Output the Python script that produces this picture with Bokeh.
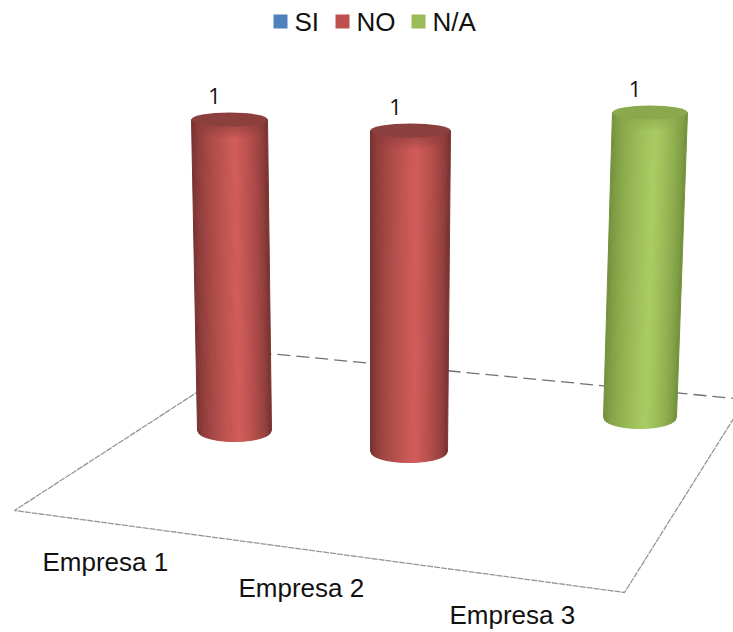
import numpy as np
from bokeh.core.properties import value
from bokeh.embed import file_html
from bokeh.models import Range1d
from bokeh.plotting import figure
from bokeh.resources import INLINE

# Chart data
categories = ["Empresa 1", "Empresa 2", "Empresa 3"]
series_names = ["SI", "NO", "N/A"]
si_values = [0, 0, 0]
no_values = [1, 1, 0]
na_values = [0, 0, 1]
data_labels = ["1", "1", "1"]

# Scene geometry, in canvas pixels with y growing downward
W, H = 733, 632
FLOOR = [(14, 510), (624, 592), (745, 399), (258, 352)]
BASE_CENTER = [(234, 430), (408.5, 451), (639.5, 417)]
UNIT_HEIGHT = [311, 321, 305]
TOP_SHIFT = [-5, 1.5, 10]
BASE_RADIUS = [37, 38.5, 36.5]
TOP_RADIUS = [38, 40, 37.5]
TOP_RY = 7
BASE_RY = 11
CATEGORY_POS = [(42, 561), (238, 587), (449, 614)]

LEGEND_COLORS = ["#4F81BD", "#C0504D", "#9BBB59"]
SHADES = [
    {"dark": "#4A6E9C", "light": "#6F9BD2", "cap": "#3F6A9E"},
    {"dark": "#6F2F2D", "light": "#D05C59", "cap": "#8C403D"},
    {"dark": "#6E8A38", "light": "#A9CB62", "cap": "#8BA94C"},
]


def hex_rgb(code):
    return np.array([int(code[i:i + 2], 16) for i in (1, 3, 5)], dtype=float)


def shade_at(t, dark, light):
    # Cylinder lighting: dark rim, brightest a little right of the axis
    peak = 0.58
    k = t / peak if t < peak else (1 - t) / (1 - peak)
    k = min(1.0, k ** 0.6 * 1.02)
    rgb = hex_rgb(dark) + (hex_rgb(light) - hex_rgb(dark)) * k
    return "#%02x%02x%02x" % tuple(int(round(c)) for c in rgb)


p = figure(
    width=W, height=H, output_backend="svg", toolbar_location=None,
    x_range=Range1d(0, W), y_range=Range1d(H, 0),
    min_border=0, outline_line_color=None, background_fill_color="white",
    border_fill_color="white",
)
p.axis.visible = False
p.grid.visible = False

# Floor of the 3D plot area
(fl, fr, br, bl) = FLOOR
p.line([bl[0], fl[0], fr[0], br[0]], [bl[1], fl[1], fr[1], br[1]],
       line_color="#969696", line_width=1.3, line_dash="6 1")
p.line([bl[0], br[0]], [bl[1], br[1]],
       line_color="#707070", line_width=1.3, line_dash="13 6")


def draw_cylinder(cat, ser, val):
    bx, by = BASE_CENTER[cat]
    tx, ty = bx + TOP_SHIFT[cat], by - val * UNIT_HEIGHT[cat]
    rb, rt = BASE_RADIUS[cat], TOP_RADIUS[cat]
    shade = SHADES[ser]
    n = 40
    edges = np.linspace(0, 1, n + 1)
    xs, ys, colors = [], [], []
    for a, b in zip(edges[:-1], edges[1:]):
        arc_a = np.sqrt(max(0, 1 - (2 * a - 1) ** 2))
        arc_b = np.sqrt(max(0, 1 - (2 * b - 1) ** 2))
        xs.append([
            tx - rt + 2 * rt * a, tx - rt + 2 * rt * b,
            bx - rb + 2 * rb * b, bx - rb + 2 * rb * a,
        ])
        ys.append([
            ty, ty,
            by + BASE_RY * arc_b, by + BASE_RY * arc_a,
        ])
        colors.append(shade_at((a + b) / 2, shade["dark"], shade["light"]))
    # Same-coloured outlines close the seams between neighbouring strips
    p.patches(xs, ys, fill_color=colors, line_color=colors, line_width=1)
    # Soft shadow falling from the rim of the lid
    steps = np.arange(1, 6)
    p.ellipse(np.full(5, tx), ty + steps * 2.2,
              width=2 * rt - 2, height=2 * TOP_RY,
              fill_color=shade["cap"], fill_alpha=0.13, line_color=None)
    p.ellipse([tx], [ty], width=2 * rt, height=2 * TOP_RY,
              fill_color=shade["cap"], line_color=None)
    return tx, ty


series_values = [si_values, no_values, na_values]
label_x, label_y = [], []
for s, vals in enumerate(series_values):
    for c, v in enumerate(vals):
        if v > 0:
            top_x, top_y = draw_cylinder(c, s, v)
            label_x.append(top_x - 15)
            label_y.append(top_y - 24)

order = np.argsort(label_x)
p.text([label_x[i] for i in order], [label_y[i] for i in order], text=data_labels,
       text_font=value("Open Sans"), text_font_size="22px", text_color="#111111",
       text_align="center", text_baseline="middle")

# Category names lying in front of the floor
p.text([q[0] for q in CATEGORY_POS], [q[1] for q in CATEGORY_POS], text=categories,
       text_font=value("Liberation Sans"), text_font_size="26px", text_color="#111111",
       text_align="left", text_baseline="middle")

# Legend along the top
SWATCH_X = [273, 335, 411]
p.rect([x + 7 for x in SWATCH_X], [21, 21, 21], width=14, height=14,
       fill_color=LEGEND_COLORS, line_color=None)
p.text([x + 21 for x in SWATCH_X], [21, 21, 21], text=series_names,
       text_font=value("Liberation Sans"), text_font_size="26px", text_color="#111111",
       text_align="left", text_baseline="middle")

open("out.html", "w").write(file_html(p, INLINE))
